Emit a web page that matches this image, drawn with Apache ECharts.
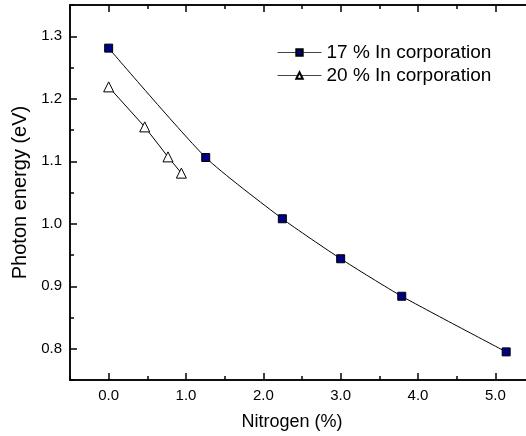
<!DOCTYPE html>
<html>
<head>
<meta charset="utf-8">
<script src="https://cdn.jsdelivr.net/npm/echarts@6/dist/echarts.min.js"></script>
<style>
  html, body { margin: 0; padding: 0; background: #fff; }
  #chart { width: 526px; height: 436px; }
</style>
</head>
<body>
<div id="chart"></div>
<script>
// Band-gap photon energy versus nitrogen content for two indium fractions
const seriesNames = ['17 % In corporation', '20 % In corporation'];
const nitrogen17 = [0.0, 1.255, 2.246, 3.0, 3.79, 5.14];
const energy17 = [1.281, 1.106, 1.008, 0.944, 0.884, 0.795];
const nitrogen20 = [0.0, 0.466, 0.767, 0.94];
const energy20 = [1.219, 1.155, 1.107, 1.081];

const xMajorTicks = [0, 1, 2, 3, 4, 5];
const xMinorTicks = [-0.5, 0.5, 1.5, 2.5, 3.5, 4.5, 5.5];
const yMajorTicks = [0.8, 0.9, 1.0, 1.1, 1.2, 1.3];
const yMinorTicks = [0.75, 0.85, 0.95, 1.05, 1.15, 1.25, 1.35];

const FONT = 'Liberation Sans, Arial, Helvetica, sans-serif';
const AXIS_LINE = { color: '#000', width: 1.5 };
const TICK_LABEL = { color: '#000', fontFamily: FONT, fontSize: 15 };

function pairs(xs, ys) { return xs.map((x, i) => [x, ys[i]]); }
function fmt(v) { return Number(v).toFixed(1); }

function xAxisDef(pos, ticks, len, labels, name) {
  return {
    type: 'value', position: pos, min: -0.5, max: 5.5,
    axisLine: { show: true, onZero: false, lineStyle: AXIS_LINE },
    axisTick: { show: true, inside: true, length: len, customValues: ticks, lineStyle: AXIS_LINE },
    axisLabel: labels
      ? Object.assign({ show: true, customValues: ticks, margin: 8, formatter: fmt }, TICK_LABEL)
      : { show: false },
    splitLine: { show: false },
    name: name || '', nameLocation: 'middle', nameGap: 33,
    nameTextStyle: { color: '#000', fontFamily: FONT, fontSize: 18, padding: [0, 20, 0, 0] }
  };
}

function yAxisDef(ticks, len, labels, name) {
  return {
    type: 'value', position: 'left', min: 0.75, max: 1.35,
    axisLine: { show: true, onZero: false, lineStyle: AXIS_LINE },
    axisTick: { show: true, inside: true, length: len, customValues: ticks, lineStyle: AXIS_LINE },
    axisLabel: labels
      ? Object.assign({ show: true, customValues: ticks, margin: 8, formatter: fmt }, TICK_LABEL)
      : { show: false },
    splitLine: { show: false },
    name: name || '', nameLocation: 'middle', nameGap: 40, nameRotate: 90,
    nameTextStyle: { color: '#000', fontFamily: FONT, fontSize: 20 }
  };
}

const chart = echarts.init(document.getElementById('chart'), null, { renderer: 'canvas' });
chart.setOption({
  animation: false,
  backgroundColor: '#fff',
  grid: { left: 70, right: -8, top: 5, bottom: 56, containLabel: false, outerBoundsMode: 'none' },
  xAxis: [
    xAxisDef('bottom', xMajorTicks, 7, true, 'Nitrogen (%)'),
    xAxisDef('bottom', xMinorTicks, 4, false),
    xAxisDef('top', xMajorTicks, 7, false),
    xAxisDef('top', xMinorTicks, 4, false)
  ],
  yAxis: [
    yAxisDef(yMajorTicks, 7, true, 'Photon energy (eV)'),
    yAxisDef(yMinorTicks, 4, false)
  ],
  legend: {
    orient: 'vertical', left: 277, top: 43, itemGap: 4, padding: 0,
    itemWidth: 44, itemHeight: 8,
    lineStyle: { color: '#444', width: 1 },
    textStyle: { color: '#000', fontFamily: FONT, fontSize: 19 },
    data: seriesNames
  },
  series: [
    {
      name: seriesNames[0], type: 'line', xAxisIndex: 0, yAxisIndex: 0,
      data: pairs(nitrogen17, energy17), smooth: 0.2,
      symbol: 'rect', symbolSize: 8,
      itemStyle: { color: '#000080', borderColor: '#000', borderWidth: 1 },
      lineStyle: { color: '#000', width: 1 }
    },
    {
      name: seriesNames[1], type: 'line', xAxisIndex: 0, yAxisIndex: 0,
      data: pairs(nitrogen20, energy20),
      symbol: 'triangle', symbolSize: 10,
      itemStyle: { color: '#fff', borderColor: '#000', borderWidth: 1 },
      lineStyle: { color: '#000', width: 1 }
    }
  ]
});
</script>
</body>
</html>
